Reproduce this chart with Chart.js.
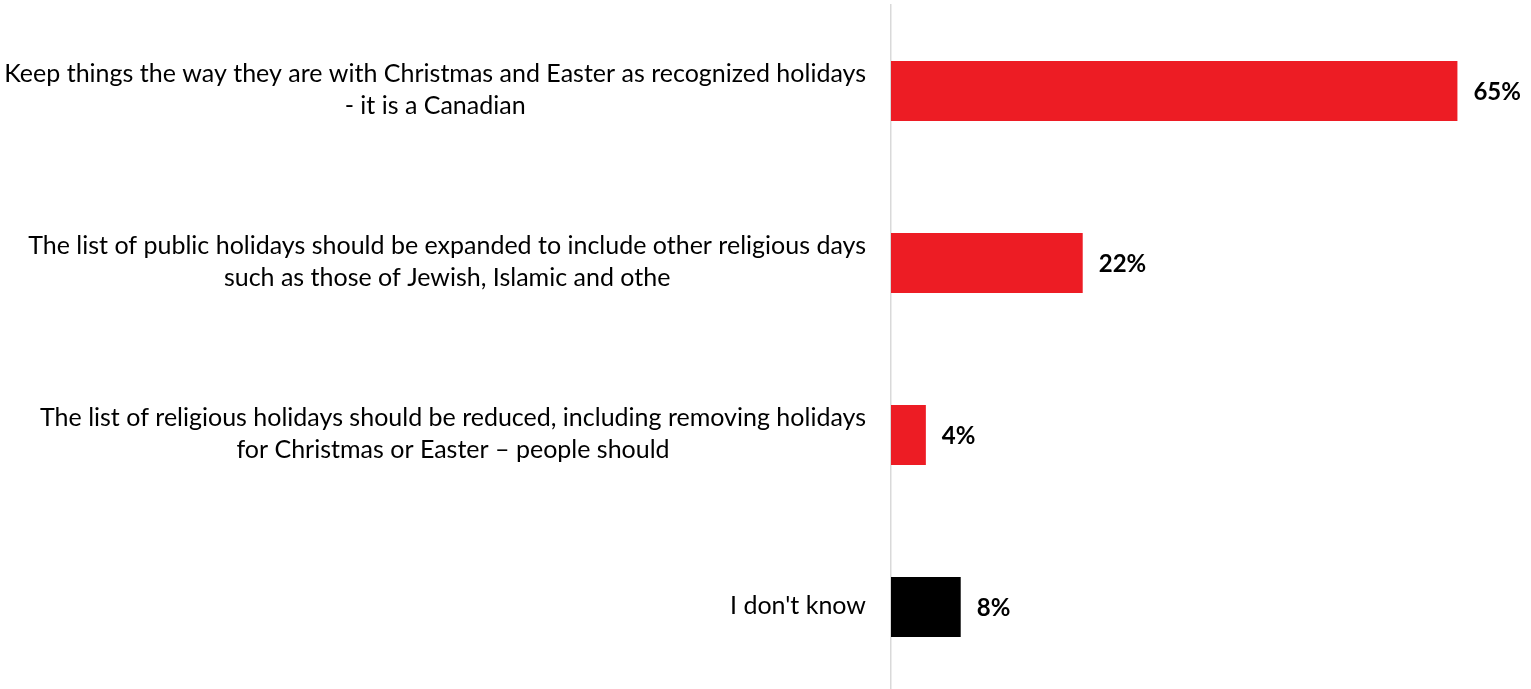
<!DOCTYPE html>
<html>
<head>
<meta charset="utf-8">
<script src="https://cdn.jsdelivr.net/npm/chart.js@4"></script>
<style>
  html, body { margin: 0; padding: 0; background: #fff; overflow: hidden; }
  #wrap { position: relative; width: 1531px; height: 693px; }
</style>
</head>
<body>
<div id="wrap"><canvas id="holidaysChart"></canvas></div>
<script>
// answers, each wrapped onto the lines shown beside the bars
const categories = [
	["Keep things the way they are with Christmas and Easter as recognized holidays", "- it is a Canadian"],
	["The list of public holidays should be expanded to include other religious days", "such as those of Jewish, Islamic and othe"],
	["The list of religious holidays should be reduced, including removing holidays", "for Christmas or Easter \u2013 people should"],
	["I don't know"]
];
const values = [65, 22, 4, 8];
const valueLabels = ["65%", "22%", "4%", "8%"];
const barColors = ['#ED1C24', '#ED1C24', '#ED1C24', '#000000'];

const LABEL_FONT = '25px Lato';
const VALUE_FONT = 'bold 24px Lato';

// category text drawn left of the axis, lines centred within each block
const categoryLabels = {
	id: 'categoryLabels',
	afterDraw(chart) {
		const ctx = chart.ctx;
		const yScale = chart.scales.y;
		const right = chart.chartArea.left - 25;
		const lh = 31.5;
		ctx.save();
		ctx.font = LABEL_FONT;
		ctx.fillStyle = '#000';
		ctx.textAlign = 'center';
		ctx.textBaseline = 'middle';
		categories.forEach(function(lines, i) {
			const y = yScale.getPixelForTick(i);
			let w = 0;
			lines.forEach(function(l) { w = Math.max(w, ctx.measureText(l).width); });
			const cx = right - w / 2;
			lines.forEach(function(l, j) {
				ctx.fillText(l, cx, y - 1 + (j - (lines.length - 1) / 2) * lh);
			});
		});
		ctx.restore();
	}
};

// percentage next to the end of every bar
const valueText = {
	id: 'valueText',
	afterDatasetsDraw(chart) {
		const ctx = chart.ctx;
		const meta = chart.getDatasetMeta(0);
		ctx.save();
		ctx.font = VALUE_FONT;
		ctx.fillStyle = '#000';
		ctx.textAlign = 'left';
		ctx.textBaseline = 'middle';
		meta.data.forEach(function(bar, i) {
			ctx.fillText(valueLabels[i], bar.x + 16, bar.y + 1);
		});
		ctx.restore();
	}
};

const ctx = document.getElementById('holidaysChart');
new Chart(ctx, {
	type: 'bar',
	data: {
		labels: categories,
		datasets: [{
			data: values,
			backgroundColor: barColors,
			borderWidth: 0,
			barPercentage: 0.35,
			categoryPercentage: 1
		}]
	},
	options: {
		indexAxis: 'y',
		responsive: true,
		maintainAspectRatio: false,
		animation: false,
		layout: { padding: { top: 5, right: 30, bottom: 0, left: 0 } },
		plugins: {
			legend: { display: false },
			tooltip: { enabled: false }
		},
		scales: {
			x: { display: false, min: 0, max: 70 },
			y: {
				afterFit: function(scale) { scale.width = 891; },
				ticks: { display: false },
				grid: { display: false },
				border: { display: true, color: '#d9d9d9', width: 1.5 }
			}
		}
	},
	plugins: [categoryLabels, valueText]
});
</script>
</body>
</html>
